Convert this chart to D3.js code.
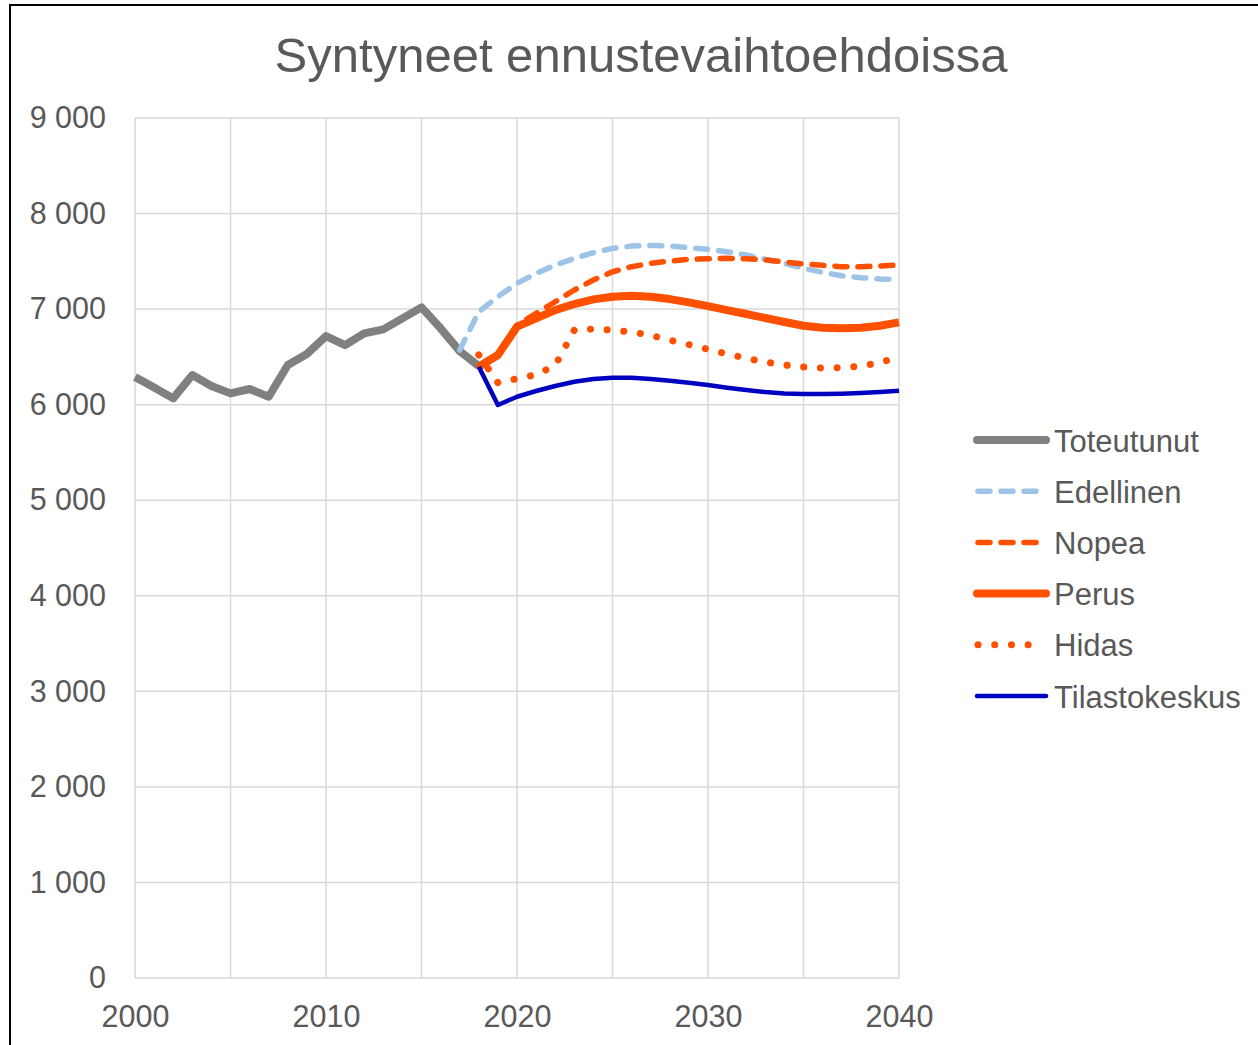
<!DOCTYPE html>
<html>
<head>
<meta charset="utf-8">
<script src="https://cdn.jsdelivr.net/npm/d3@7"></script>
<style>
  body { margin: 0; background: #fff; }
  svg { display: block; font-family: 'Liberation Sans', Arial, sans-serif; }
</style>
</head>
<body>
<div id="canvas"></div>
<script>
const title = 'Syntyneet ennustevaihtoehdoissa';

const actualYears = d3.range(2000, 2019);
const toteutunut = [6290, 6180, 6066, 6310, 6195, 6118, 6164, 6083, 6415, 6530,
                    6718, 6624, 6746, 6788, 6903, 7018, 6799, 6561, 6404];

const edellinenYears = d3.range(2017, 2041);
const edellinen = [6572, 6973, 7130, 7269, 7374, 7461, 7531, 7590, 7636, 7660, 7667, 7660,
                   7643, 7625, 7601, 7566, 7521, 7479, 7427, 7385, 7349, 7329, 7315, 7311];

const forecastYears = d3.range(2018, 2041);
const nopea = [6397, 6530, 6830, 6956, 7077, 7200, 7304, 7391, 7444, 7479, 7503, 7521,
               7527, 7531, 7527, 7514, 7493, 7472, 7458, 7444, 7444, 7451, 7461];
const perus = [6397, 6520, 6816, 6903, 6990, 7053, 7102, 7130, 7141, 7130, 7105, 7071,
               7032, 6990, 6949, 6907, 6865, 6826, 6806, 6799, 6806, 6826, 6861];
const hidas = [6520, 6230, 6272, 6314, 6410, 6781, 6792, 6781, 6760, 6726, 6676, 6628,
               6579, 6530, 6485, 6446, 6415, 6394, 6383, 6387, 6404, 6439, 6500];
const tilastokeskus = [6397, 5996, 6083, 6143, 6195, 6240, 6268, 6282, 6282, 6268, 6251, 6230,
                       6206, 6178, 6153, 6132, 6118, 6111, 6111, 6115, 6122, 6132, 6146];

const yTicks = [0, 1000, 2000, 3000, 4000, 5000, 6000, 7000, 8000, 9000];
const xTicks = [2000, 2010, 2020, 2030, 2040];
const xGrid = [2000, 2005, 2010, 2015, 2020, 2025, 2030, 2035, 2040];

const w = 1258;
const h = 1045;
const plot = { left: 135, right: 899, top: 118, bottom: 978 };

const series = [
	{ name: 'Toteutunut', years: actualYears, values: toteutunut, color: '#808080', width: 8, dash: null },
	{ name: 'Edellinen', years: edellinenYears, values: edellinen, color: '#9DC3E6', width: 5.5, dash: '12,11' },
	{ name: 'Nopea', years: forecastYears, values: nopea, color: '#FF5000', width: 5.5, dash: '12,11' },
	{ name: 'Perus', years: forecastYears, values: perus, color: '#FF5000', width: 8, dash: null },
	{ name: 'Hidas', years: forecastYears, values: hidas, color: '#FF5000', width: 7, dash: '0.1,16.6' },
	{ name: 'Tilastokeskus', years: forecastYears, values: tilastokeskus, color: '#0000C0', width: 4.5, dash: null }
];

const svg = d3.select('#canvas')
	.append('svg')
	.attr('width', w)
	.attr('height', h);

// outer chart frame
svg.append('rect')
	.attr('x', 10)
	.attr('y', 5)
	.attr('width', w + 20)
	.attr('height', h + 20)
	.attr('fill', '#fff')
	.attr('stroke', '#000')
	.attr('stroke-width', 2);

svg.append('text')
	.attr('x', 641)
	.attr('y', 72)
	.attr('text-anchor', 'middle')
	.attr('fill', '#595959')
	.style('font-size', '49px')
	.text(title);

const xScale = d3.scaleLinear()
	.domain([2000, 2040])
	.range([plot.left, plot.right]);

const yScale = d3.scaleLinear()
	.domain([0, 9000])
	.range([plot.bottom, plot.top]);

// gridlines
svg.append('g')
	.selectAll('line')
	.data(yTicks)
	.enter()
	.append('line')
	.attr('x1', plot.left)
	.attr('x2', plot.right)
	.attr('y1', d => yScale(d))
	.attr('y2', d => yScale(d))
	.attr('stroke', '#D9D9D9')
	.attr('stroke-width', 1.5);

svg.append('g')
	.selectAll('line')
	.data(xGrid)
	.enter()
	.append('line')
	.attr('x1', d => xScale(d))
	.attr('x2', d => xScale(d))
	.attr('y1', plot.top)
	.attr('y2', plot.bottom)
	.attr('stroke', '#D9D9D9')
	.attr('stroke-width', 1.5);

const yAxis = d3.axisLeft(yScale)
	.tickValues(yTicks)
	.tickSize(0)
	.tickPadding(29)
	.tickFormat(d => d3.format(',')(d).replace(/,/g, ' '));

const yAxisG = svg.append('g')
	.attr('id', 'y-axis')
	.attr('transform', 'translate(' + plot.left + ', 0)')
	.call(yAxis);

const xAxis = d3.axisBottom(xScale)
	.tickValues(xTicks)
	.tickSize(0)
	.tickPadding(27)
	.tickFormat(d3.format('d'));

const xAxisG = svg.append('g')
	.attr('id', 'x-axis')
	.attr('transform', 'translate(0, ' + plot.bottom + ')')
	.call(xAxis);

[yAxisG, xAxisG].forEach(g => {
	g.select('.domain').remove();
	g.selectAll('text')
		.attr('fill', '#595959')
		.style('font-size', '30.5px')
		.style('font-family', "'Liberation Sans', Arial, sans-serif");
});

const line = d3.line()
	.x(d => xScale(d[0]))
	.y(d => yScale(d[1]));

svg.append('g')
	.selectAll('path')
	.data(series)
	.enter()
	.append('path')
	.attr('d', s => line(s.years.map((y, i) => [y, s.values[i]])))
	.attr('fill', 'none')
	.attr('stroke', s => s.color)
	.attr('stroke-width', s => s.width)
	.attr('stroke-dasharray', s => s.dash)
	.attr('stroke-linecap', s => s.dash ? 'round' : 'butt')
	.attr('stroke-linejoin', 'round');

// legend
const legend = svg.append('g')
	.attr('id', 'legend')
	.attr('transform', 'translate(975, 440)');

const rows = legend.selectAll('g')
	.data(series)
	.enter()
	.append('g')
	.attr('transform', (d, i) => 'translate(0, ' + (i * 51.2) + ')');

rows.append('line')
	.attr('x1', s => s.dash ? 3 : 2)
	.attr('x2', s => s.dash ? 68 : 71)
	.attr('y1', 0)
	.attr('y2', 0)
	.attr('stroke', s => s.color)
	.attr('stroke-width', s => s.width)
	.attr('stroke-dasharray', s => s.dash)
	.attr('stroke-linecap', 'round');

rows.append('text')
	.attr('x', 79)
	.attr('y', 11.5)
	.attr('fill', '#595959')
	.style('font-size', '31px')
	.text(s => s.name);
</script>
</body>
</html>
